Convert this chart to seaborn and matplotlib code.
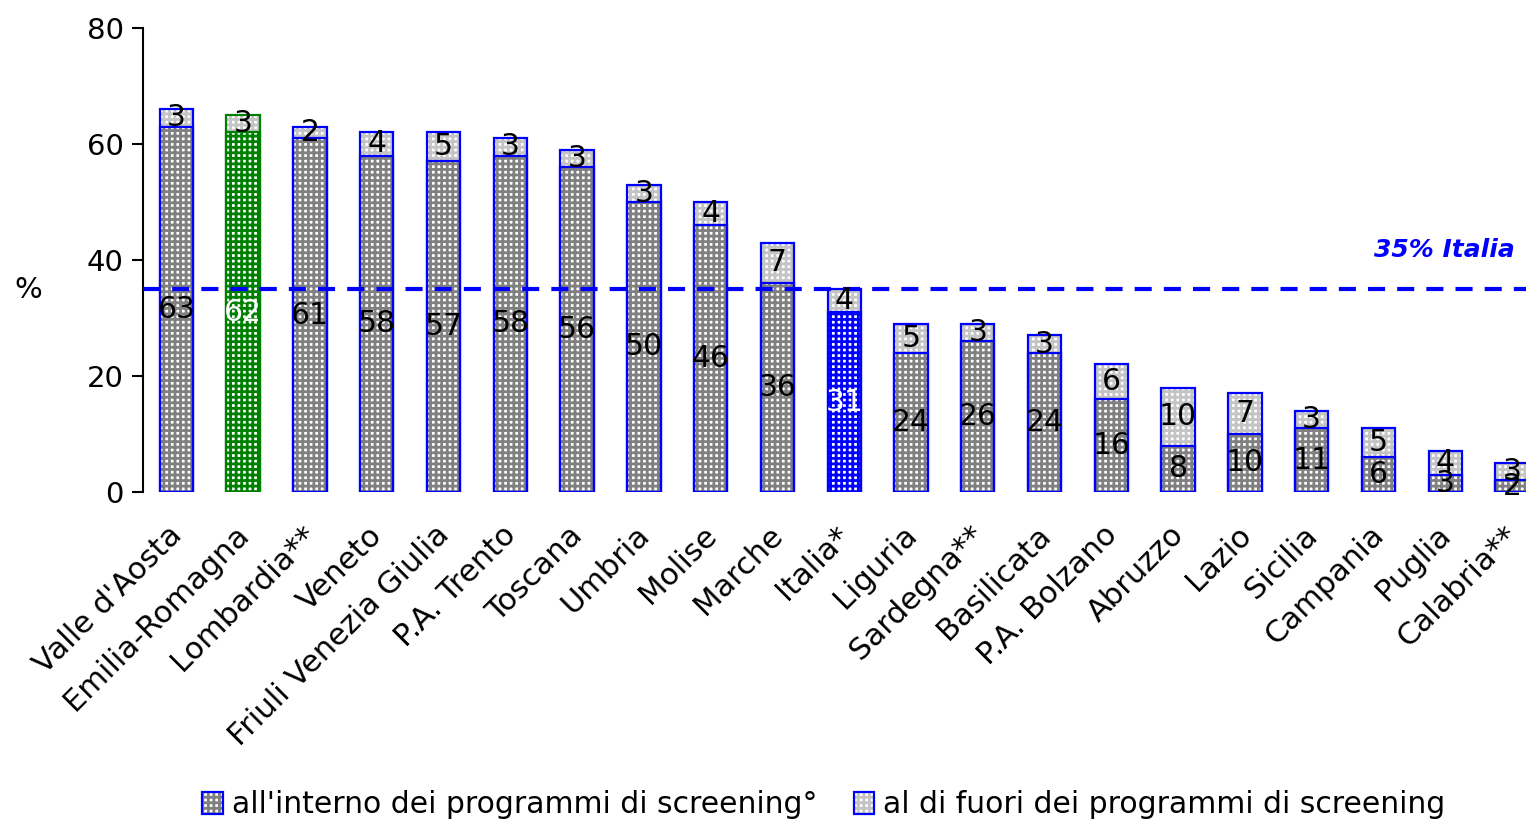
import matplotlib
matplotlib.use("Agg")
import matplotlib.pyplot as plt
from matplotlib.patches import Rectangle, Patch
from matplotlib.legend_handler import HandlerTuple
from matplotlib.transforms import blended_transform_factory, ScaledTranslation
import seaborn as sns

categories = ["Valle d'Aosta", "Emilia-Romagna", "Lombardia**", "Veneto",
              "Friuli Venezia Giulia", "P.A. Trento", "Toscana", "Umbria",
              "Molise", "Marche", "Italia*", "Liguria", "Sardegna**",
              "Basilicata", "P.A. Bolzano", "Abruzzo", "Lazio", "Sicilia",
              "Campania", "Puglia", "Calabria**"]
interno = [63, 62, 61, 58, 57, 58, 56, 50, 46, 36, 31, 24, 26, 24, 16, 8, 10, 11, 6, 3, 2]
fuori = [3, 3, 2, 4, 5, 3, 3, 3, 4, 7, 4, 5, 3, 3, 6, 10, 7, 3, 5, 4, 3]
italia_ref = 35
yticks = [0, 20, 40, 60, 80]
legend_labels = ["all'interno dei programmi di screening°",
                 "al di fuori dei programmi di screening"]

totals = [a + b for a, b in zip(interno, fuori)]

BLUE = "#0000FF"
GREEN = "#008000"
GRAY = "#808080"
LIGHT = "#c4c4c4"

sns.set_style("white")
plt.rcParams["font.family"] = ["DejaVu Sans"]
plt.rcParams["text.color"] = "black"
plt.rcParams["hatch.linewidth"] = 2.0

fig = plt.figure(figsize=(15.26, 8.24), dpi=100)
ax = fig.add_axes([143 / 1526, 1 - 492 / 824, 1 - 143 / 1526, (492 - 28) / 824])

sns.barplot(x=categories, y=totals, color="white", saturation=1, width=0.5, ax=ax)
sns.barplot(x=categories, y=interno, color="white", saturation=1, width=0.5, ax=ax)

special = {categories.index("Emilia-Romagna"): GREEN, categories.index("Italia*"): BLUE}

top_patches = ax.containers[0].patches
bot_patches = ax.containers[1].patches
for i, (pt, pb) in enumerate(zip(top_patches, bot_patches)):
    pt.set_facecolor("white")
    pt.set_edgecolor(LIGHT)
    pt.set_hatch("+++")
    pt.set_linewidth(0)
    pb.set_facecolor("white")
    pb.set_edgecolor(special.get(i, GRAY))
    pb.set_hatch("+++")
    pb.set_linewidth(0)
    ec = GREEN if i == categories.index("Emilia-Romagna") else BLUE
    for p in (pt, pb):
        ax.add_patch(Rectangle((p.get_x(), p.get_y()), p.get_width(), p.get_height(),
                               fill=False, edgecolor=ec, linewidth=1.6, zorder=2.5))

for i in range(len(categories)):
    c = "white" if i in special else "black"
    ax.text(i, interno[i] / 2, str(interno[i]), ha="center", va="center",
            fontsize=21.5, color=c, zorder=5)
    ax.text(i, interno[i] + fuori[i] / 2, str(fuori[i]), ha="center", va="center",
            fontsize=21.5, color="black", zorder=5)

ax.axhline(italia_ref, color=BLUE, linewidth=3, dashes=(4.1, 2.9), zorder=4)
tr = blended_transform_factory(ax.transAxes, ax.transData)
ax.text(0.992, 41.7, f"{italia_ref}% Italia", transform=tr, ha="right", va="center",
        fontsize=18, color=BLUE, fontweight="bold", fontstyle="italic")

ax.set_ylim(0, 80)
ax.set_yticks(yticks)
ax.set_xlim(-0.5, 20 + 14 / 66.8)
ax.set_xlabel("")
ax.set_ylabel("")
for s in ("top", "right", "bottom"):
    ax.spines[s].set_visible(False)
ax.spines["left"].set_color("black")
ax.spines["left"].set_linewidth(1.5)
ax.tick_params(axis="y", left=True, direction="out", length=8, width=1.5,
               labelsize=21, pad=6, color="black", labelcolor="black")
ax.tick_params(axis="x", bottom=False, length=0, labelsize=22, pad=14,
               labelcolor="black")
ax.set_xticks(range(len(categories)))
ax.set_xticklabels(categories, rotation=45, ha="right", va="top", rotation_mode="anchor")
shift = ScaledTranslation(-0.09, -0.09, fig.dpi_scale_trans)
for lbl in ax.get_xticklabels():
    lbl.set_transform(lbl.get_transform() + shift)

fig.text(28 / 1526, 1 - 290 / 824, "%", ha="center", va="center", fontsize=21)

h1 = (Patch(facecolor="white", edgecolor=GRAY, hatch="+++", linewidth=0),
      Patch(fill=False, edgecolor=BLUE, linewidth=1.6))
h2 = (Patch(facecolor="white", edgecolor=LIGHT, hatch="+++", linewidth=0),
      Patch(fill=False, edgecolor=BLUE, linewidth=1.6))
fig.legend([h1, h2], legend_labels, handler_map={tuple: HandlerTuple(ndivide=1)},
           loc="lower center", bbox_to_anchor=(0.54, -0.027), ncol=2, frameon=False,
           fontsize=21.5, handlelength=0.7, handleheight=0.8, handletextpad=0.3,
           columnspacing=1.2)

fig.savefig("out.png", dpi=100)
